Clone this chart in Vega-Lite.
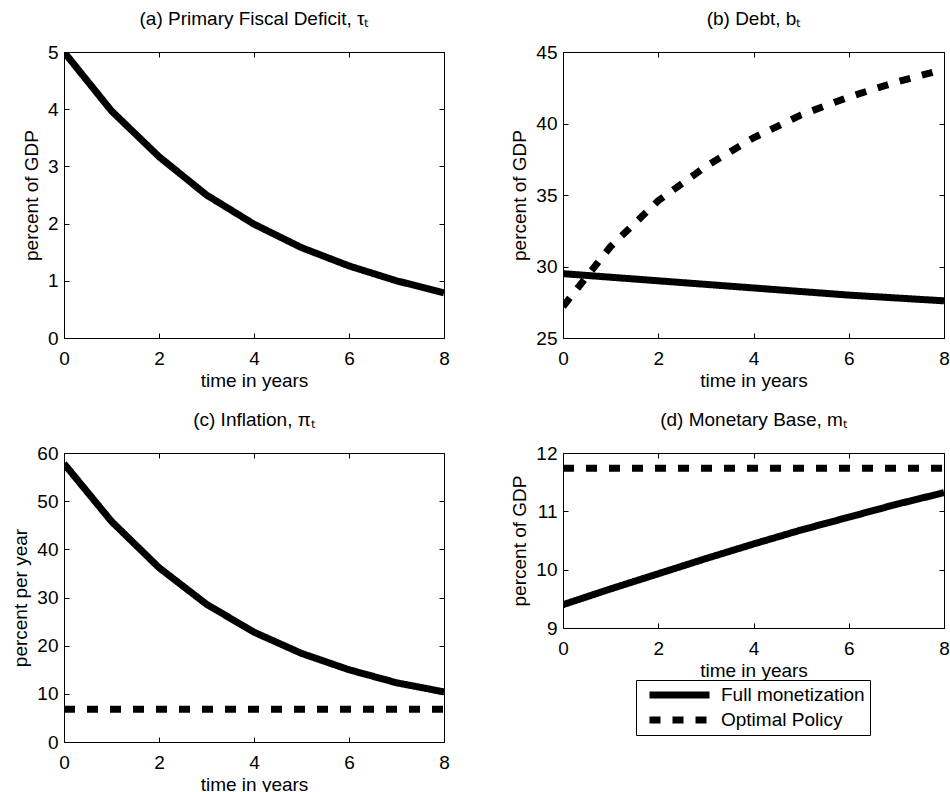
{
  "$schema": "https://vega.github.io/schema/vega-lite/v6.json",
  "padding": {"left": 11, "top": 9, "right": 0, "bottom": 0},
  "background": "white",
  "data": {
    "values": [
      {"p": "a", "s": "Full monetization", "t": 0, "v": 5.0},
      {"p": "a", "s": "Full monetization", "t": 1, "v": 3.97},
      {"p": "a", "s": "Full monetization", "t": 2, "v": 3.17},
      {"p": "a", "s": "Full monetization", "t": 3, "v": 2.5},
      {"p": "a", "s": "Full monetization", "t": 4, "v": 1.99},
      {"p": "a", "s": "Full monetization", "t": 5, "v": 1.58},
      {"p": "a", "s": "Full monetization", "t": 6, "v": 1.26},
      {"p": "a", "s": "Full monetization", "t": 7, "v": 1.0},
      {"p": "a", "s": "Full monetization", "t": 8, "v": 0.79},
      {"p": "b", "s": "Full monetization", "t": 0, "v": 29.5},
      {"p": "b", "s": "Full monetization", "t": 1, "v": 29.25},
      {"p": "b", "s": "Full monetization", "t": 2, "v": 29.0},
      {"p": "b", "s": "Full monetization", "t": 3, "v": 28.75},
      {"p": "b", "s": "Full monetization", "t": 4, "v": 28.5},
      {"p": "b", "s": "Full monetization", "t": 5, "v": 28.25},
      {"p": "b", "s": "Full monetization", "t": 6, "v": 28.0},
      {"p": "b", "s": "Full monetization", "t": 7, "v": 27.8},
      {"p": "b", "s": "Full monetization", "t": 8, "v": 27.6},
      {"p": "b", "s": "Optimal Policy", "t": 0, "v": 27.2},
      {"p": "b", "s": "Optimal Policy", "t": 1, "v": 31.4},
      {"p": "b", "s": "Optimal Policy", "t": 2, "v": 34.6},
      {"p": "b", "s": "Optimal Policy", "t": 3, "v": 37.0},
      {"p": "b", "s": "Optimal Policy", "t": 4, "v": 39.0},
      {"p": "b", "s": "Optimal Policy", "t": 5, "v": 40.6},
      {"p": "b", "s": "Optimal Policy", "t": 6, "v": 41.85},
      {"p": "b", "s": "Optimal Policy", "t": 7, "v": 42.9},
      {"p": "b", "s": "Optimal Policy", "t": 8, "v": 43.8},
      {"p": "c", "s": "Full monetization", "t": 0, "v": 57.8},
      {"p": "c", "s": "Full monetization", "t": 1, "v": 45.8},
      {"p": "c", "s": "Full monetization", "t": 2, "v": 36.2},
      {"p": "c", "s": "Full monetization", "t": 3, "v": 28.6},
      {"p": "c", "s": "Full monetization", "t": 4, "v": 22.8},
      {"p": "c", "s": "Full monetization", "t": 5, "v": 18.4},
      {"p": "c", "s": "Full monetization", "t": 6, "v": 15.0},
      {"p": "c", "s": "Full monetization", "t": 7, "v": 12.3},
      {"p": "c", "s": "Full monetization", "t": 8, "v": 10.4},
      {"p": "c", "s": "Optimal Policy", "t": 0, "v": 6.8},
      {"p": "c", "s": "Optimal Policy", "t": 4, "v": 6.8},
      {"p": "c", "s": "Optimal Policy", "t": 8, "v": 6.8},
      {"p": "d", "s": "Full monetization", "t": 0, "v": 9.4},
      {"p": "d", "s": "Full monetization", "t": 1, "v": 9.67},
      {"p": "d", "s": "Full monetization", "t": 2, "v": 9.93},
      {"p": "d", "s": "Full monetization", "t": 3, "v": 10.19},
      {"p": "d", "s": "Full monetization", "t": 4, "v": 10.44},
      {"p": "d", "s": "Full monetization", "t": 5, "v": 10.68},
      {"p": "d", "s": "Full monetization", "t": 6, "v": 10.9},
      {"p": "d", "s": "Full monetization", "t": 7, "v": 11.12},
      {"p": "d", "s": "Full monetization", "t": 8, "v": 11.32},
      {"p": "d", "s": "Optimal Policy", "t": 0, "v": 11.74},
      {"p": "d", "s": "Optimal Policy", "t": 4, "v": 11.74},
      {"p": "d", "s": "Optimal Policy", "t": 8, "v": 11.74}
    ]
  },
  "vconcat": [
    {
      "hconcat": [
        {
          "title": "(a) Primary Fiscal Deficit, τₜ",
          "width": 380,
          "height": 286,
          "transform": [{"filter": "datum.p == 'a'"}],
          "layer": [
            {
              "mark": {"type": "line", "color": "black", "strokeWidth": 7, "clip": true},
              "encoding": {
                "x": {"field": "t", "type": "quantitative", "scale": {"domain": [0, 8], "nice": false}, "axis": {"title": "time in years", "values": [0, 2, 4, 6, 8]}},
                "y": {"field": "v", "type": "quantitative", "scale": {"domain": [0, 5], "nice": false, "zero": false}, "axis": {"title": "percent of GDP", "values": [0, 1, 2, 3, 4, 5]}},
                "strokeDash": {"field": "s", "type": "nominal", "scale": {"domain": ["Full monetization", "Optimal Policy"], "range": [[1, 0], [11, 12]]}, "legend": null}
              }
            },
            {
              "mark": {"type": "line", "opacity": 0},
              "encoding": {
                "x": {"field": "t", "type": "quantitative", "scale": {"domain": [0, 8], "nice": false}, "axis": {"orient": "top", "labels": false, "title": null, "domain": false, "values": [0, 2, 4, 6, 8]}},
                "y": {"field": "v", "type": "quantitative", "scale": {"domain": [0, 5], "nice": false, "zero": false}, "axis": {"orient": "right", "labels": false, "title": null, "domain": false, "values": [0, 1, 2, 3, 4, 5]}}
              }
            }
          ],
          "resolve": {"axis": {"x": "independent", "y": "independent"}}
        },
        {
          "title": "(b) Debt, bₜ",
          "width": 381,
          "height": 286,
          "transform": [{"filter": "datum.p == 'b'"}],
          "layer": [
            {
              "mark": {"type": "line", "color": "black", "strokeWidth": 7, "clip": true},
              "encoding": {
                "x": {"field": "t", "type": "quantitative", "scale": {"domain": [0, 8], "nice": false}, "axis": {"title": "time in years", "values": [0, 2, 4, 6, 8]}},
                "y": {"field": "v", "type": "quantitative", "scale": {"domain": [25, 45], "nice": false, "zero": false}, "axis": {"title": "percent of GDP", "values": [25, 30, 35, 40, 45]}},
                "strokeDash": {"field": "s", "type": "nominal", "scale": {"domain": ["Full monetization", "Optimal Policy"], "range": [[1, 0], [11, 12]]}, "legend": null}
              }
            },
            {
              "mark": {"type": "line", "opacity": 0},
              "encoding": {
                "x": {"field": "t", "type": "quantitative", "scale": {"domain": [0, 8], "nice": false}, "axis": {"orient": "top", "labels": false, "title": null, "domain": false, "values": [0, 2, 4, 6, 8]}},
                "y": {"field": "v", "type": "quantitative", "scale": {"domain": [25, 45], "nice": false, "zero": false}, "axis": {"orient": "right", "labels": false, "title": null, "domain": false, "values": [25, 30, 35, 40, 45]}}
              }
            }
          ],
          "resolve": {"axis": {"x": "independent", "y": "independent"}}
        }
      ]
    },
    {
      "hconcat": [
        {
          "title": "(c) Inflation, πₜ",
          "width": 380,
          "height": 289,
          "transform": [{"filter": "datum.p == 'c'"}],
          "layer": [
            {
              "mark": {"type": "line", "color": "black", "strokeWidth": 7, "clip": true},
              "encoding": {
                "x": {"field": "t", "type": "quantitative", "scale": {"domain": [0, 8], "nice": false}, "axis": {"title": "time in years", "values": [0, 2, 4, 6, 8]}},
                "y": {"field": "v", "type": "quantitative", "scale": {"domain": [0, 60], "nice": false, "zero": false}, "axis": {"title": "percent per year", "values": [0, 10, 20, 30, 40, 50, 60]}},
                "strokeDash": {"field": "s", "type": "nominal", "scale": {"domain": ["Full monetization", "Optimal Policy"], "range": [[1, 0], [11, 12]]}, "legend": null}
              }
            },
            {
              "mark": {"type": "line", "opacity": 0},
              "encoding": {
                "x": {"field": "t", "type": "quantitative", "scale": {"domain": [0, 8], "nice": false}, "axis": {"orient": "top", "labels": false, "title": null, "domain": false, "values": [0, 2, 4, 6, 8]}},
                "y": {"field": "v", "type": "quantitative", "scale": {"domain": [0, 60], "nice": false, "zero": false}, "axis": {"orient": "right", "labels": false, "title": null, "domain": false, "values": [0, 10, 20, 30, 40, 50, 60]}}
              }
            }
          ],
          "resolve": {"axis": {"x": "independent", "y": "independent"}}
        },
        {
          "title": "(d) Monetary Base, mₜ",
          "width": 381,
          "height": 175,
          "transform": [{"filter": "datum.p == 'd'"}],
          "layer": [
            {
              "mark": {"type": "line", "color": "black", "strokeWidth": 7, "clip": true},
              "encoding": {
                "x": {"field": "t", "type": "quantitative", "scale": {"domain": [0, 8], "nice": false}, "axis": {"title": "time in years", "values": [0, 2, 4, 6, 8]}},
                "y": {"field": "v", "type": "quantitative", "scale": {"domain": [9, 12], "nice": false, "zero": false}, "axis": {"title": "percent of GDP", "values": [9, 10, 11, 12]}},
                "strokeDash": {
                  "field": "s", "type": "nominal",
                  "scale": {"domain": ["Full monetization", "Optimal Policy"], "range": [[1, 0], [11, 12]]},
                  "legend": {
                    "title": null, "orient": "none", "legendX": 73, "legendY": 227,
                    "symbolType": "stroke", "symbolSize": 3600, "symbolStrokeWidth": 7, "symbolStrokeColor": "black",
                    "clipHeight": 20, "rowPadding": 5, "padding": 5, "symbolOffset": 5, "labelOffset": 8,
                    "labelFontSize": 19, "labelColor": "black", "labelLimit": 300,
                    "strokeColor": "black", "fillColor": "white"
                  }
                }
              }
            },
            {
              "mark": {"type": "line", "opacity": 0},
              "encoding": {
                "x": {"field": "t", "type": "quantitative", "scale": {"domain": [0, 8], "nice": false}, "axis": {"orient": "top", "labels": false, "title": null, "domain": false, "values": [0, 2, 4, 6, 8]}},
                "y": {"field": "v", "type": "quantitative", "scale": {"domain": [9, 12], "nice": false, "zero": false}, "axis": {"orient": "right", "labels": false, "title": null, "domain": false, "values": [9, 10, 11, 12]}}
              }
            }
          ],
          "resolve": {"axis": {"x": "independent", "y": "independent"}}
        }
      ],
      "resolve": {"scale": {"strokeDash": "independent"}, "legend": {"strokeDash": "independent"}}
    }
  ],
  "spacing": 19,
  "resolve": {"scale": {"strokeDash": "independent"}, "legend": {"strokeDash": "independent"}},
  "config": {
    "font": "Liberation Sans",
    "concat": {"spacing": 60},
    "view": {"stroke": "black", "strokeWidth": 1},
    "axis": {
      "domainColor": "black", "tickColor": "black", "tickSize": -5, "grid": false,
      "labelFontSize": 19, "titleFontSize": 19, "labelColor": "black", "titleColor": "black",
      "titleFontWeight": "normal", "labelFlush": false, "labelOverlap": false
    },
    "axisX": {"labelPadding": 16, "titlePadding": 3},
    "axisY": {"labelPadding": 11, "titlePadding": 6},
    "title": {"fontSize": 19, "fontWeight": "normal", "color": "black", "anchor": "middle", "offset": 14}
  }
}
